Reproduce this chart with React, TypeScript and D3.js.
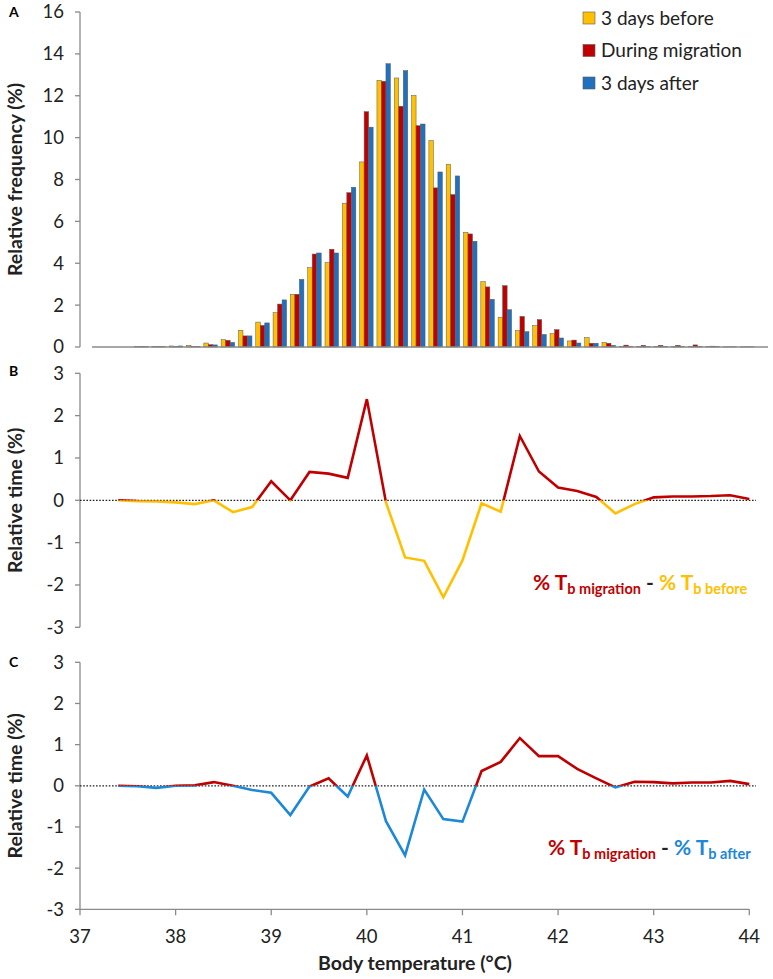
import React from "react";
import * as d3 from "d3";

// Panel A histogram categories (°C) and relative frequencies (%)
const binsA = [37.4, 37.6, 37.8, 38.0, 38.2, 38.4, 38.6, 38.8, 39.0, 39.2, 39.4, 39.6, 39.8, 40.0, 40.2, 40.4, 40.6, 40.8, 41.0, 41.2, 41.4, 41.6, 41.8, 42.0, 42.2, 42.4, 42.6, 42.8, 43.0, 43.2, 43.4, 43.6, 43.8, 44.0, 44.2, 44.4];
const before = [0.02, 0.02, 0.05, 0.08, 0.19, 0.35, 0.8, 1.19, 1.64, 2.52, 3.79, 4.03, 6.86, 8.84, 12.74, 12.85, 12.02, 9.86, 8.73, 5.48, 3.12, 1.42, 0.78, 1.02, 0.64, 0.29, 0.45, 0.22, 0.03, 0.02, 0.02, 0.02, 0.02, 0.02, 0.01, 0.01];
const during = [0.02, 0.02, 0.03, 0.03, 0.11, 0.32, 0.53, 1.03, 2.05, 2.52, 4.44, 4.67, 7.37, 11.24, 12.69, 11.5, 10.57, 7.6, 7.28, 5.4, 2.87, 2.93, 1.46, 1.31, 0.83, 0.33, 0.18, 0.18, 0.09, 0.08, 0.08, 0.08, 0.1, 0.04, 0.01, 0.01];
const after = [0.02, 0.02, 0.05, 0.03, 0.1, 0.22, 0.53, 1.15, 2.25, 3.23, 4.49, 4.49, 7.63, 10.5, 13.53, 13.2, 10.65, 8.36, 8.17, 5.05, 2.28, 1.78, 0.73, 0.6, 0.43, 0.19, 0.18, 0.08, 0.02, 0.02, 0.02, 0.02, 0.02, 0.02, 0.01, 0.01];
const legendLabels = ["3 days before", "During migration", "3 days after"];
const yTicksA = [0, 2, 4, 6, 8, 10, 12, 14, 16];

// Panels B and C: difference curves
const tempsBC = [37.4, 37.6, 37.8, 38.0, 38.2, 38.4, 38.6, 38.8, 39.0, 39.2, 39.4, 39.6, 39.8, 40.0, 40.2, 40.4, 40.6, 40.8, 41.0, 41.2, 41.4, 41.6, 41.8, 42.0, 42.2, 42.4, 42.6, 42.8, 43.0, 43.2, 43.4, 43.6, 43.8, 44.0];
const diffBefore = [0.0, -0.02, -0.03, -0.05, -0.09, 0.0, -0.28, -0.16, 0.45, 0.0, 0.67, 0.63, 0.53, 2.39, -0.05, -1.35, -1.43, -2.29, -1.42, -0.07, -0.27, 1.52, 0.68, 0.3, 0.22, 0.08, -0.31, -0.09, 0.07, 0.09, 0.09, 0.1, 0.12, 0.03];
const diffAfter = [0.0, -0.01, -0.05, 0.0, 0.01, 0.09, 0.0, -0.1, -0.17, -0.71, -0.02, 0.18, -0.26, 0.74, -0.86, -1.69, -0.09, -0.81, -0.87, 0.36, 0.58, 1.16, 0.72, 0.72, 0.41, 0.18, -0.04, 0.1, 0.09, 0.06, 0.08, 0.08, 0.12, 0.04];
const yTicksBC = [-3, -2, -1, 0, 1, 2, 3];
const xTicksBC = [37, 38, 39, 40, 41, 42, 43, 44];

const YELLOW = "#FFC000";
const RED = "#C00000";
const BLUE_BAR = "#1F70BE";
const BLUE_LINE = "#1C88D6";
const AXIS = "#8a8a8a";
const FONT = "Lato, 'Open Sans', sans-serif";

const xA = d3.scaleLinear().domain([36.83, 44.64]).range([92, 768]);
const yA = d3.scaleLinear().domain([0, 16]).range([347, 12]);
const xBC = d3.scaleLinear().domain([37, 44]).range([80, 749.3]);
const yB = d3.scaleLinear().domain([-3, 3]).range([627.3, 373.3]);
const yC = d3.scaleLinear().domain([-3, 3]).range([909.3, 662.3]);

function YAxis({ scale, ticks, x }: { scale: any; ticks: number[]; x: number }) {
  const [r0, r1] = scale.range();
  return (
    <g>
      <line x1={x} x2={x} y1={r0} y2={r1} stroke={AXIS} strokeWidth={1.3} />
      {ticks.map((t) => (
        <g key={t}>
          <line x1={x - 5} x2={x} y1={scale(t)} y2={scale(t)} stroke={AXIS} strokeWidth={1.3} />
          <text x={x - 16} y={scale(t)} dy="0.35em" textAnchor="end" fontSize={18.5} fill="#222" fontFamily={FONT}>
            {t}
          </text>
        </g>
      ))}
    </g>
  );
}

function DiffPanel({ id, yScale, values, negColor }: { id: string; yScale: any; values: number[]; negColor: string }) {
  const line = d3
    .line<number>()
    .x((_, i) => xBC(tempsBC[i]))
    .y((d) => yScale(d));
  const d = line(values) || "";
  const y0 = yScale(0);
  return (
    <g>
      <defs>
        <clipPath id={id + "pos"}>
          <rect x={0} y={0} width={773} height={y0} />
        </clipPath>
        <clipPath id={id + "neg"}>
          <rect x={0} y={y0} width={773} height={979 - y0} />
        </clipPath>
      </defs>
      <line x1={80} x2={756} y1={y0} y2={y0} stroke="#222" strokeWidth={1.3} strokeDasharray="1.6 1.6" />
      <path d={d} fill="none" stroke={negColor} strokeWidth={2.6} strokeLinejoin="miter" clipPath={`url(#${id}neg)`} />
      <path d={d} fill="none" stroke={RED} strokeWidth={2.6} strokeLinejoin="miter" clipPath={`url(#${id}pos)`} />
    </g>
  );
}

function Annotation({ x, y, second, color }: { x: number; y: number; second: string; color: string }) {
  return (
    <text x={x} y={y} fontFamily={FONT} fontWeight="bold">
      <tspan fill={RED} fontSize={21}>% T</tspan>
      <tspan fill={RED} fontSize={14.5} dy={4}>b migration</tspan>
      <tspan fill="#222" fontSize={21} dy={-4}> - </tspan>
      <tspan fill={color} fontSize={21}>% T</tspan>
      <tspan fill={color} fontSize={14.5} dy={4}>{"b " + second}</tspan>
    </text>
  );
}

export default function App() {
  const step = xA(0.2) - xA(0);
  const bw = step * 0.26;
  const series = [
    { vals: before, color: YELLOW },
    { vals: during, color: RED },
    { vals: after, color: BLUE_BAR },
  ];
  return (
    <svg width={773} height={979} style={{ position: "absolute", left: 0, top: 0, background: "#fff" }}>
      {/* Panel labels */}
      <text x={9} y={17} fontSize={14} fontWeight="bold" fontFamily={FONT}>A</text>
      <text x={9} y={376} fontSize={14} fontWeight="bold" fontFamily={FONT}>B</text>
      <text x={9} y={667} fontSize={14} fontWeight="bold" fontFamily={FONT}>C</text>

      {/* Panel A */}
      <YAxis scale={yA} ticks={yTicksA} x={80} />
      {binsA.map((b, i) =>
        series.map((s, k) => {
          const v = s.vals[i];
          const x0 = xA(b) - 1.5 * bw + k * bw;
          return (
            <rect
              key={`${i}-${k}`}
              x={x0}
              y={yA(v)}
              width={bw}
              height={yA(0) - yA(v)}
              fill={s.color}
              stroke="#5a5a5a"
              strokeWidth={0.5}
            />
          );
        })
      )}
      <line x1={92} x2={768} y1={yA(0)} y2={yA(0)} stroke={AXIS} strokeWidth={1.5} />
      <text
        transform={`translate(22,${yA(8)}) rotate(-90)`}
        textAnchor="middle"
        fontSize={19.5}
        fontWeight="bold"
        fontFamily={FONT}
        fill="#222"
      >
        Relative frequency (%)
      </text>
      {legendLabels.map((l, k) => (
        <g key={l}>
          <rect x={583} y={12 + k * 32.5} width={12} height={12} fill={series[k].color} stroke="#5a5a5a" strokeWidth={0.6} />
          <text x={601} y={18 + k * 32.5} dy="0.35em" fontSize={19} fontFamily={FONT} fill="#222">
            {l}
          </text>
        </g>
      ))}

      {/* Panel B */}
      <YAxis scale={yB} ticks={yTicksBC} x={80} />
      <text
        transform={`translate(22,${yB(0)}) rotate(-90)`}
        textAnchor="middle"
        fontSize={19.5}
        fontWeight="bold"
        fontFamily={FONT}
        fill="#222"
      >
        Relative time (%)
      </text>
      <DiffPanel id="pb" yScale={yB} values={diffBefore} negColor={YELLOW} />
      <Annotation x={533} y={590} second="before" color={YELLOW} />

      {/* Panel C */}
      <YAxis scale={yC} ticks={yTicksBC} x={80} />
      <text
        transform={`translate(22,${yC(0)}) rotate(-90)`}
        textAnchor="middle"
        fontSize={19.5}
        fontWeight="bold"
        fontFamily={FONT}
        fill="#222"
      >
        Relative time (%)
      </text>
      <DiffPanel id="pc" yScale={yC} values={diffAfter} negColor={BLUE_LINE} />
      <Annotation x={548} y={855} second="after" color={BLUE_LINE} />
      <line x1={80} x2={749.3} y1={yC(-3)} y2={yC(-3)} stroke={AXIS} strokeWidth={1.3} />
      {xTicksBC.map((t) => (
        <g key={t}>
          <line x1={xBC(t)} x2={xBC(t)} y1={yC(-3)} y2={yC(-3) + 6} stroke={AXIS} strokeWidth={1.3} />
          <text x={xBC(t)} y={943} textAnchor="middle" fontSize={18.5} fontFamily={FONT} fill="#222">
            {t}
          </text>
        </g>
      ))}
      <text x={415} y={970} textAnchor="middle" fontSize={19.5} fontWeight="bold" fontFamily={FONT} fill="#222">
        Body temperature (°C)
      </text>
    </svg>
  );
}
